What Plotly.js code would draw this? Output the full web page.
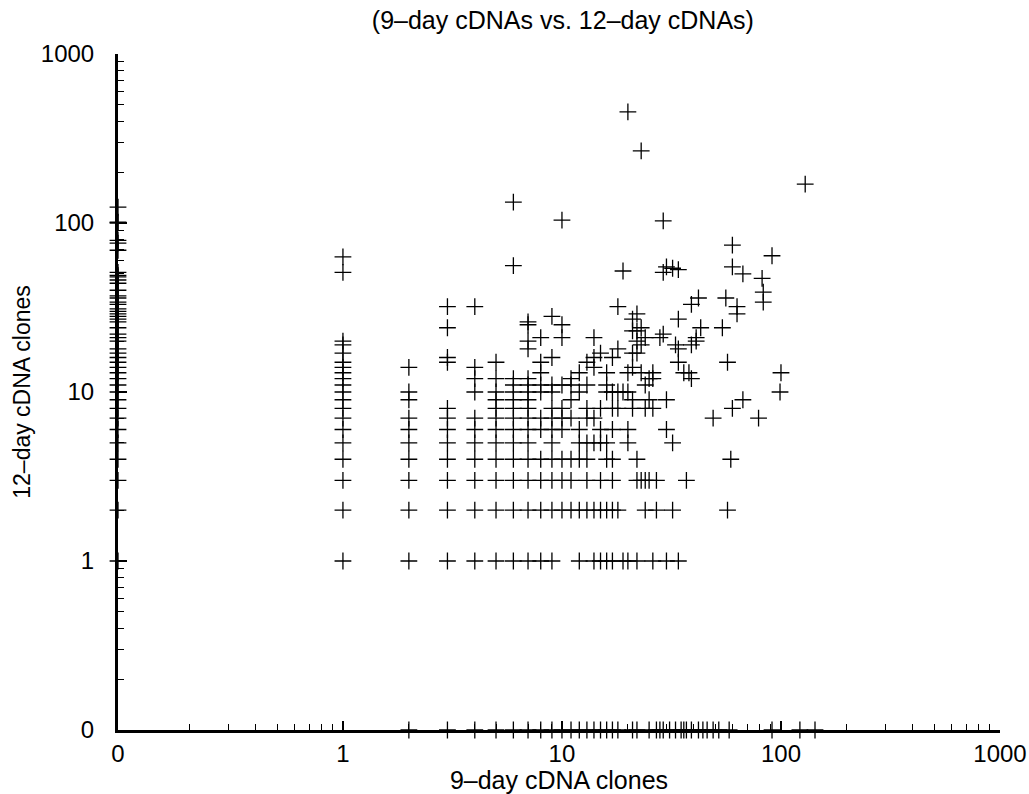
<!DOCTYPE html>
<html>
<head>
<meta charset="utf-8">
<script src="https://cdn.plot.ly/plotly-3.0.1.min.js"></script>
<style>html,body{margin:0;padding:0;background:#fff;}#chart{width:1029px;height:794px;}</style>
</head>
<body>
<div id="chart"></div>
<script>
// Clone counts: 9-day (x) vs 12-day (y). A value of 0 is drawn on the axis ("0" tick).
const day9 = [
  0,0,0,0,0,0,0,0,0,0,0,0,0,0,0,0,0,0,0,0,0,0,0,0,0,0,0,0,0,0,0,0,0,0,0,0,0,0,0,0,0,0,0,0,
  1,1,1,1,1,1,1,1,1,1,1,1,1,1,1,1,1,1,1,1,
  2,2,2,2,2,2,2,2,2,2,
  3,3,3,3,3,3,3,3,3,3,3,3,
  4,4,4,4,4,4,4,4,4,4,4,
  5,5,5,5,5,5,5,5,5,5,5,5,
  6,6,6,6,6,6,6,6,6,6,6,6,6,6,
  7,7,7,7,7,7,7,7,7,7,7,7,7,7,7,7,
  8,8,8,8,8,8,8,8,8,8,8,
  9,9,9,9,9,9,9,9,9,9,9,9,
  10,10,10,10,10,10,10,10,10,10,
  11,11,11,11,11,11,11,
  12,12,12,12,12,12,12,
  13,13,13,13,13,13,13,13,
  14,14,14,14,14,14,14,
  15,15,15,15,15,15,15,
  16,16,16,16,16,16,16,
  17,17,17,17,17,17,17,17,
  18,18,18,18,18,
  19,19,19,
  20,20,20,20,20,20,
  21,21,21,21,21,21,
  22,22,22,22,22,22,22,
  23,23,23,23,23,
  24,24,24,24,24,
  25,25,25,
  26,26,26,26,
  27,27,
  28,
  29,29,29,
  30,30,30,30,
  32,32,32,
  33,
  34,34,34,34,34,
  36,37,38,
  39,39,39,
  41,41,42,43,49,54,56,57,57,59,
  60,60,60,63,63,67,67,79,82,83,83,91,99,100,129,
  2,3,4,5,6,7,8,9,10,11,12,13,14,15,16,17,18,21,22,25,27,28,29,31,33,35,36,37,39,42,44,46,49,52,58,91,122,143
];
const day12 = [
  1,2,3,4,5,6,7,8,9,10,11,12,13,14,15,16,17,18,20,21,22,24,26,27,28,29,30,31,33,34,36,37,40,44,46,48,49,51,69,76,79,100,101,124,
  1,2,3,4,5,6,7,8,9,10,11,12,13,14,15,17,19,20,51,63,
  1,2,3,4,5,6,7,9,10,14,
  1,2,3,4,5,6,7,8,15,16,24,32,
  1,2,3,4,5,6,7,10,12,14,32,
  1,2,3,4,5,6,7,8,9,10,12,15,
  1,2,3,4,5,6,7,8,9,10,11,12,56,133,
  1,2,3,4,5,6,7,8,9,10,11,12,18,20,25,26,
  1,2,3,4,6,7,10,11,13,15,21,
  1,2,3,4,5,6,7,8,10,11,16,28,
  2,3,4,6,7,8,11,21,25,104,
  2,3,4,7,9,11,12,
  1,2,4,5,6,10,13,
  2,3,4,5,7,8,11,15,
  1,2,5,7,14,16,21,
  1,2,3,5,6,8,17,
  1,2,4,5,10,11,13,
  1,2,3,4,6,8,10,16,
  2,8,10,18,32,
  1,10,52,
  1,5,6,10,13,454,
  8,9,14,17,23,27,
  1,3,4,17,20,23,29,
  3,13,19,24,267,
  2,3,8,11,21,
  3,9,12,
  1,8,12,13,
  2,3,
  21,
  22,51,103,
  1,6,9,55,
  2,5,54,
  19,
  1,15,18,27,53,
  13,3,13,
  12,19,33,
  20,21,36,24,7,24,36,2,15,4,
  8,55,74,29,32,9,50,7,47,34,39,64,10,13,170,
  0,0,0,0,0,0,0,0,0,0,0,0,0,0,0,0,0,0,0,0,0,0,0,0,0,0,0,0,0,0,0,0,0,0,0,0,0,0,0
];
const tickValues = [0, 1, 10, 100, 1000];
const tickLabels = ["0", "1", "10", "100", "1000"];

const XRANGE = [-1.027, 3];
const YRANGE = [-1, 3];
const ZX = Math.pow(10, XRANGE[0]);
const ZY = Math.pow(10, YRANGE[0]);
const mapX = v => v === 0 ? ZX : v;
const mapY = v => v === 0 ? ZY : v;

const minorVals = [];
for (let e = -1; e < 3; e++) for (let m = 2; m <= 9; m++) minorVals.push(m * Math.pow(10, e));

const font = "Liberation Sans, Arial, Helvetica, sans-serif";

const trace = {
  type: "scatter", mode: "markers",
  x: day9.map(mapX), y: day12.map(mapY),
  cliponaxis: false,
  marker: {symbol: "cross-thin-open", size: 12, color: "#000", line: {color: "#000", width: 1.3}},
  hoverinfo: "skip"
};

const axisCommon = {
  type: "log", showgrid: false, zeroline: false,
  showline: true, linecolor: "#000", linewidth: 3,
  ticks: "inside", ticklen: 9, tickwidth: 1.3, tickcolor: "#000",
  tickfont: {family: font, size: 24, color: "#000"},
  tickmode: "array",
  minor: {tickmode: "array", tickvals: minorVals, ticks: "inside", ticklen: 6, tickwidth: 1, tickcolor: "#000", showgrid: false}
};

const layout = {
  width: 1029, height: 794,
  margin: {l: 118, r: 29, t: 54, b: 64},
  paper_bgcolor: "#fff", plot_bgcolor: "#fff",
  showlegend: false,
  title: {text: "(9–day cDNAs vs. 12–day cDNAs)", font: {family: font, size: 25, color: "#000"}, x: 0.547, xanchor: "center", y: 0.975, yanchor: "middle"},
  xaxis: Object.assign({}, axisCommon, {
    range: XRANGE,
    tickvals: tickValues.map(mapX), ticktext: tickLabels,
    title: {text: "9–day cDNA clones", font: {family: font, size: 25, color: "#000"}, standoff: 4}
  }),
  yaxis: Object.assign({}, axisCommon, {
    range: YRANGE,
    tickvals: tickValues.map(mapY), ticktext: tickLabels,
    ticklabelstandoff: 16,
    title: {text: "12–day cDNA clones", font: {family: font, size: 23, color: "#000"}, standoff: 4}
  })
};

Plotly.newPlot("chart", [trace], layout, {displayModeBar: false, staticPlot: true});
</script>
</body>
</html>
